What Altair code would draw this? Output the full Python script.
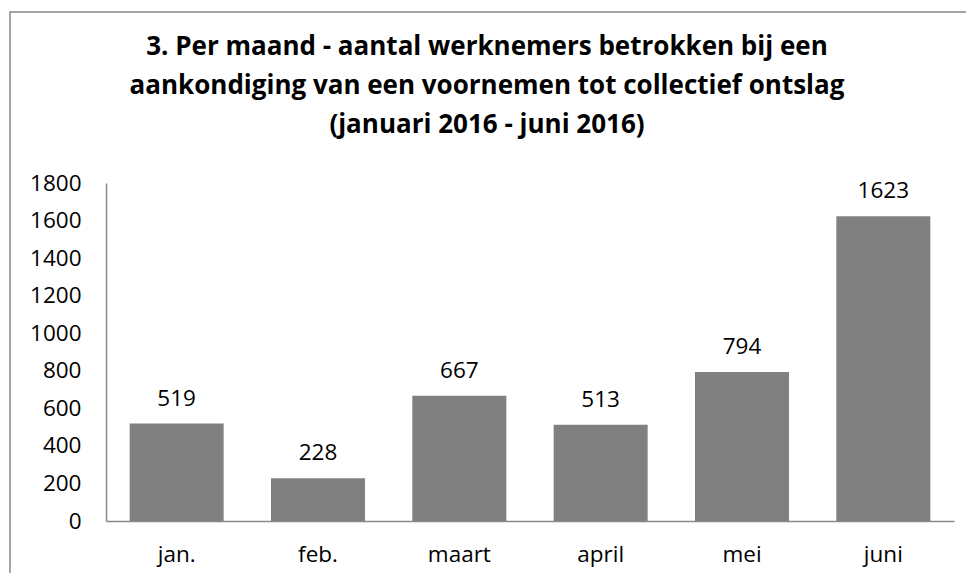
import altair as alt
import pandas as pd

months = ["jan.", "feb.", "maart", "april", "mei", "juni"]
values = [519, 228, 667, 513, 794, 1623]
title_lines = [
    "3. Per maand - aantal werknemers betrokken bij een",
    "aankondiging van een voornemen tot collectief ontslag",
    "(januari 2016 - juni 2016)",
]

df = pd.DataFrame({"maand": months, "aantal": values})
FONT = "Open Sans"
FS = 22.5

x = alt.X("maand:N", sort=months, title=None,
          scale=alt.Scale(paddingInner=0.335, paddingOuter=0.1675),
          axis=alt.Axis(labelAngle=0, ticks=False, domainColor="#888888", domainWidth=1.5,
                        labelFontSize=FS, labelColor="#000000", labelPadding=40,
                        labelBaseline="alphabetic", labelFont=FONT))
y = alt.Y("aantal:Q", title=None,
          scale=alt.Scale(domain=[0, 1800], nice=False),
          axis=alt.Axis(values=list(range(0, 1801, 200)), ticks=False, grid=False, format="d",
                        labelOverlap=False, labelFlush=False,
                        domainColor="#888888", domainWidth=1.5, labelFontSize=FS,
                        labelColor="#000000", labelPadding=25, labelFont=FONT))

bars = alt.Chart(df).mark_bar(color="#808080").encode(x=x, y=y)
labels = alt.Chart(df).mark_text(fontSize=FS, font=FONT, color="#000000", baseline="alphabetic", dy=-18).encode(
    x=x, y=y, text="aantal:Q")
one = pd.DataFrame({"a": [0]})
border = alt.Chart(one).mark_rect(fill=None, stroke="#888888", strokeWidth=1.5).encode(
    x=alt.value(-96), x2=alt.value(1100), y=alt.value(-171), y2=alt.value(700))

title_y = [-128, -89, -50]
titles = [
    alt.Chart(one).mark_text(fontSize=26, font=FONT, fontWeight="bold", color="#000000",
                             baseline="alphabetic", align="center").encode(
        x=alt.value(381), y=alt.value(ty), text=alt.value(line))
    for line, ty in zip(title_lines, title_y)
]

chart = alt.layer(bars, labels, border, *titles).properties(
    width=848, height=338,
    autosize=alt.AutoSizeParams(type="none"),
    padding={"left": 98, "top": 175, "right": 12, "bottom": 52},
).configure_view(stroke=None)

chart.save("out.html", embed_options={"renderer": "svg", "actions": False})
